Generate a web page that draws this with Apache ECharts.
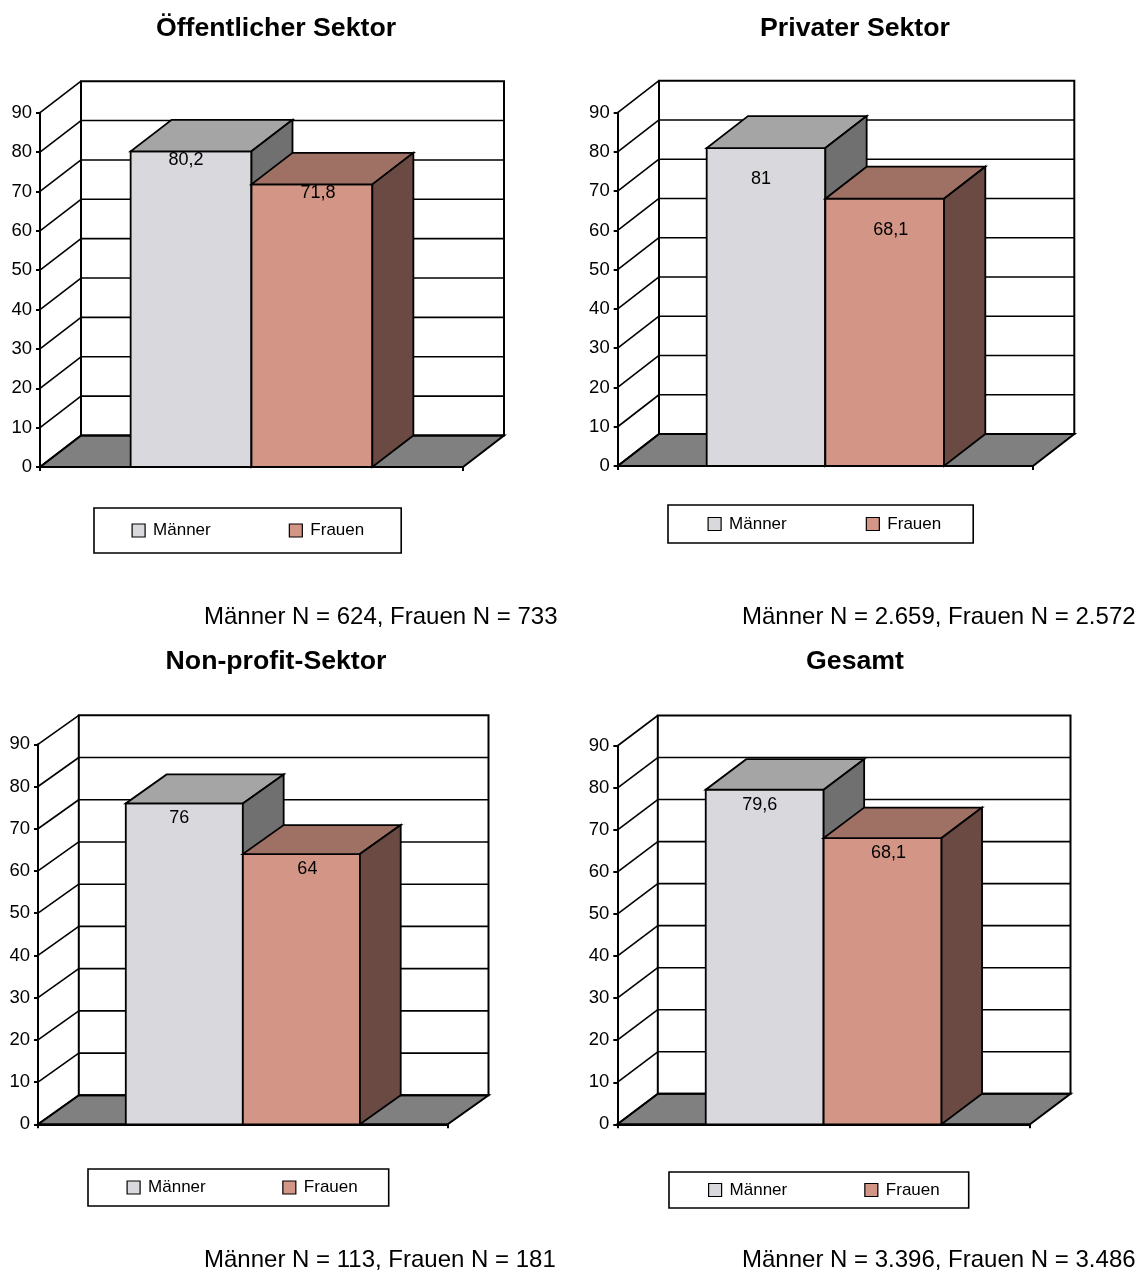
<!DOCTYPE html>
<html>
<head>
<meta charset="utf-8">
<title>Anteil nach Sektor und Geschlecht</title>
<script src="https://cdn.jsdelivr.net/npm/echarts@6/dist/echarts.min.js"></script>
<style>
  html, body { margin: 0; padding: 0; background: #ffffff; }
  #chart { width: 1146px; height: 1273px; }
</style>
</head>
<body>
<div id="chart"></div>
<script>
// ---- data ----
const panelTitles = ['Öffentlicher Sektor', 'Privater Sektor', 'Non-profit-Sektor', 'Gesamt'];
const seriesNames = ['Männer', 'Frauen'];
const maennerValues = [80.2, 81, 76, 79.6];
const frauenValues = [71.8, 68.1, 64, 68.1];
const sampleNotes = [
  'Männer N = 624, Frauen N = 733',
  'Männer N = 2.659, Frauen N = 2.572',
  'Männer N = 113, Frauen N = 181',
  'Männer N = 3.396, Frauen N = 3.486'
];
const yTicks = [0, 10, 20, 30, 40, 50, 60, 70, 80, 90];

// ---- layout & style ----
const FONT = '"Liberation Sans", Arial, Helvetica, sans-serif';
const GAP_WIDTH = 1.5; // gap between bar groups, relative to one bar

// front plane of each panel, perspective depth (dx, dy) and text placement
const panels = [
  { left: 40,    right: 463,    top: 112.7, bottom: 467,    dx: 41, dy: -31.5, labelDy: 9,
    titleX: 276, titleY: 29,  noteX: 204, noteY: 617,
    legend: { left: 94,  top: 508,  padV: 14,   padL: 37.5, padR: 37, gap: 78 } },
  { left: 617.7, right: 1033,   top: 112.7, bottom: 466,    dx: 41.3, dy: -32, labelDy: 31,
    titleX: 855, titleY: 29,  noteX: 742, noteY: 617,
    legend: { left: 668, top: 505,  padV: 10.5, padL: 39.5, padR: 32, gap: 79 } },
  { left: 38,    right: 447.7,  top: 744.3, bottom: 1124.3, dx: 40.8, dy: -29, labelDy: 15,
    titleX: 276, titleY: 662, noteX: 204, noteY: 1260,
    legend: { left: 88,  top: 1169, padV: 10,   padL: 38.5, padR: 31, gap: 76.5 } },
  { left: 617.3, right: 1030,   top: 746,   bottom: 1124.3, dx: 40.5, dy: -30.5, labelDy: 15,
    titleX: 855, titleY: 662, noteX: 742, noteY: 1260,
    legend: { left: 669, top: 1172, padV: 9.5,  padL: 39,   padR: 29, gap: 77 } }
];

const barColors = {
  'Männer': { front: '#D9D9DD', top: '#A5A5A5', side: '#707070', labelDx: -5 },
  'Frauen': { front: '#D39686', top: '#9F7165', side: '#6A4A42', labelDx: 6 }
};

const fmt = v => String(v).replace('.', ',');

// walls, floor and gridlines of the box
function renderFrame(panel) {
  return function (params, api) {
    const cs = params.coordSys;
    const xL = cs.x, xR = cs.x + cs.width;
    const dx = panel.dx, dy = panel.dy;
    const yOf = v => api.coord([0, v])[1];
    const y0 = yOf(yTicks[0]);
    const yTop = yOf(yTicks[yTicks.length - 1]);
    const children = [];
    // floor
    children.push({
      type: 'polygon',
      shape: { points: [[xL, y0], [xR, y0], [xR + dx, y0 + dy], [xL + dx, y0 + dy]] },
      style: { fill: '#808080', stroke: '#000', lineWidth: 2 }
    });
    // back wall gridlines
    yTicks.slice(1, -1).forEach(v => {
      const y = yOf(v) + dy;
      children.push({
        type: 'line',
        shape: { x1: xL + dx, y1: y, x2: xR + dx, y2: y },
        style: { stroke: '#000', lineWidth: 1.6 }
      });
    });
    // back wall outline
    children.push({
      type: 'rect',
      shape: { x: xL + dx, y: yTop + dy, width: xR - xL, height: y0 - yTop },
      style: { fill: null, stroke: '#000', lineWidth: 2 }
    });
    // side wall diagonals
    yTicks.forEach(v => {
      const y = yOf(v);
      children.push({
        type: 'line',
        shape: { x1: xL, y1: y, x2: xL + dx, y2: y + dy },
        style: { stroke: '#000', lineWidth: 1.6 }
      });
    });
    return { type: 'group', children: children };
  };
}

// one 3D bar: front face, top face, side face and value label
function renderBar(panel, seriesIdx, name) {
  const col = barColors[name];
  return function (params, api) {
    const value = api.value(1);
    const band = api.size([1, 0])[0];
    const barW = band / (seriesNames.length + GAP_WIDTH);
    const pTop = api.coord([api.value(0), value]);
    const pBase = api.coord([api.value(0), 0]);
    const x1 = pTop[0] - band / 2 + barW * GAP_WIDTH / 2 + seriesIdx * barW;
    const x2 = x1 + barW;
    const yt = pTop[1], yb = pBase[1];
    const dx = panel.dx, dy = panel.dy;
    const edge = { stroke: '#000', lineWidth: 1.8, lineJoin: 'miter' };
    return {
      type: 'group',
      children: [
        { type: 'rect', shape: { x: x1, y: yt, width: barW, height: yb - yt },
          style: Object.assign({ fill: col.front }, edge) },
        { type: 'polygon', shape: { points: [[x1, yt], [x2, yt], [x2 + dx, yt + dy], [x1 + dx, yt + dy]] },
          style: Object.assign({ fill: col.top }, edge) },
        { type: 'polygon', shape: { points: [[x2, yt], [x2 + dx, yt + dy], [x2 + dx, yb + dy], [x2, yb]] },
          style: Object.assign({ fill: col.side }, edge) },
        { type: 'text', z2: 10,
          style: { text: fmt(value), x: (x1 + x2) / 2 + col.labelDx, y: yt + panel.labelDy,
                   align: 'center', verticalAlign: 'middle', textAlign: 'center', textVerticalAlign: 'middle',
                   font: '18px ' + FONT, fill: '#000' } }
      ]
    };
  };
}

const grid = [], xAxis = [], yAxis = [], series = [], legend = [], title = [];
const groups = [maennerValues, frauenValues];

panels.forEach((p, k) => {
  grid.push({ left: p.left, top: p.top, width: p.right - p.left, height: p.bottom - p.top,
              containLabel: false, outerBoundsMode: 'none' });
  xAxis.push({
    type: 'category', gridIndex: k, data: [''], z: 10,
    axisLine: { show: true, lineStyle: { color: '#000', width: 2 } },
    axisTick: { show: true, length: 4, lineStyle: { color: '#000', width: 2 } },
    axisLabel: { show: false }, splitLine: { show: false }
  });
  yAxis.push({
    type: 'value', gridIndex: k, min: yTicks[0], max: yTicks[yTicks.length - 1], interval: 10, z: 10,
    axisLine: { show: true, lineStyle: { color: '#000', width: 2 } },
    axisTick: { show: true, length: 4, lineStyle: { color: '#000', width: 2 } },
    axisLabel: { show: true, color: '#000', fontFamily: FONT, fontSize: 18.5, margin: 8 },
    splitLine: { show: false }
  });
  series.push({
    type: 'custom', name: 'frame' + k, xAxisIndex: k, yAxisIndex: k, z: 1, silent: true,
    renderItem: renderFrame(p), data: [[0, 0]]
  });
  seriesNames.forEach((name, i) => {
    series.push({
      type: 'custom', name: name, xAxisIndex: k, yAxisIndex: k, z: 2 + i,
      itemStyle: { color: barColors[name].front },
      renderItem: renderBar(p, i, name),
      data: [[0, groups[i][k]]]
    });
  });
  legend.push({
    data: seriesNames, left: p.legend.left, top: p.legend.top,
    orient: 'horizontal', icon: 'rect', itemWidth: 13, itemHeight: 13, itemGap: p.legend.gap,
    padding: [p.legend.padV, p.legend.padR, p.legend.padV, p.legend.padL],
    borderColor: '#000', borderWidth: 1.6, borderRadius: 0, backgroundColor: '#fff',
    itemStyle: { borderColor: '#000', borderWidth: 1.2 },
    textStyle: { color: '#000', fontFamily: FONT, fontSize: 17, padding: [0, 0, 0, 3] },
    selectedMode: false
  });
  title.push({
    text: panelTitles[k], left: p.titleX, top: p.titleY - 14, textAlign: 'center', padding: 0,
    textStyle: { color: '#000', fontFamily: FONT, fontSize: 26.7, fontWeight: 'bold', lineHeight: 28 }
  });
  title.push({
    text: sampleNotes[k], left: p.noteX, top: p.noteY - 13, textAlign: 'left', padding: 0,
    textStyle: { color: '#000', fontFamily: FONT, fontSize: 24, fontWeight: 'normal', lineHeight: 26 }
  });
});

const chart = echarts.init(document.getElementById('chart'), null, { renderer: 'canvas' });
chart.setOption({
  backgroundColor: '#ffffff',
  animation: false,
  title: title,
  legend: legend,
  grid: grid,
  xAxis: xAxis,
  yAxis: yAxis,
  series: series
});
</script>
</body>
</html>
